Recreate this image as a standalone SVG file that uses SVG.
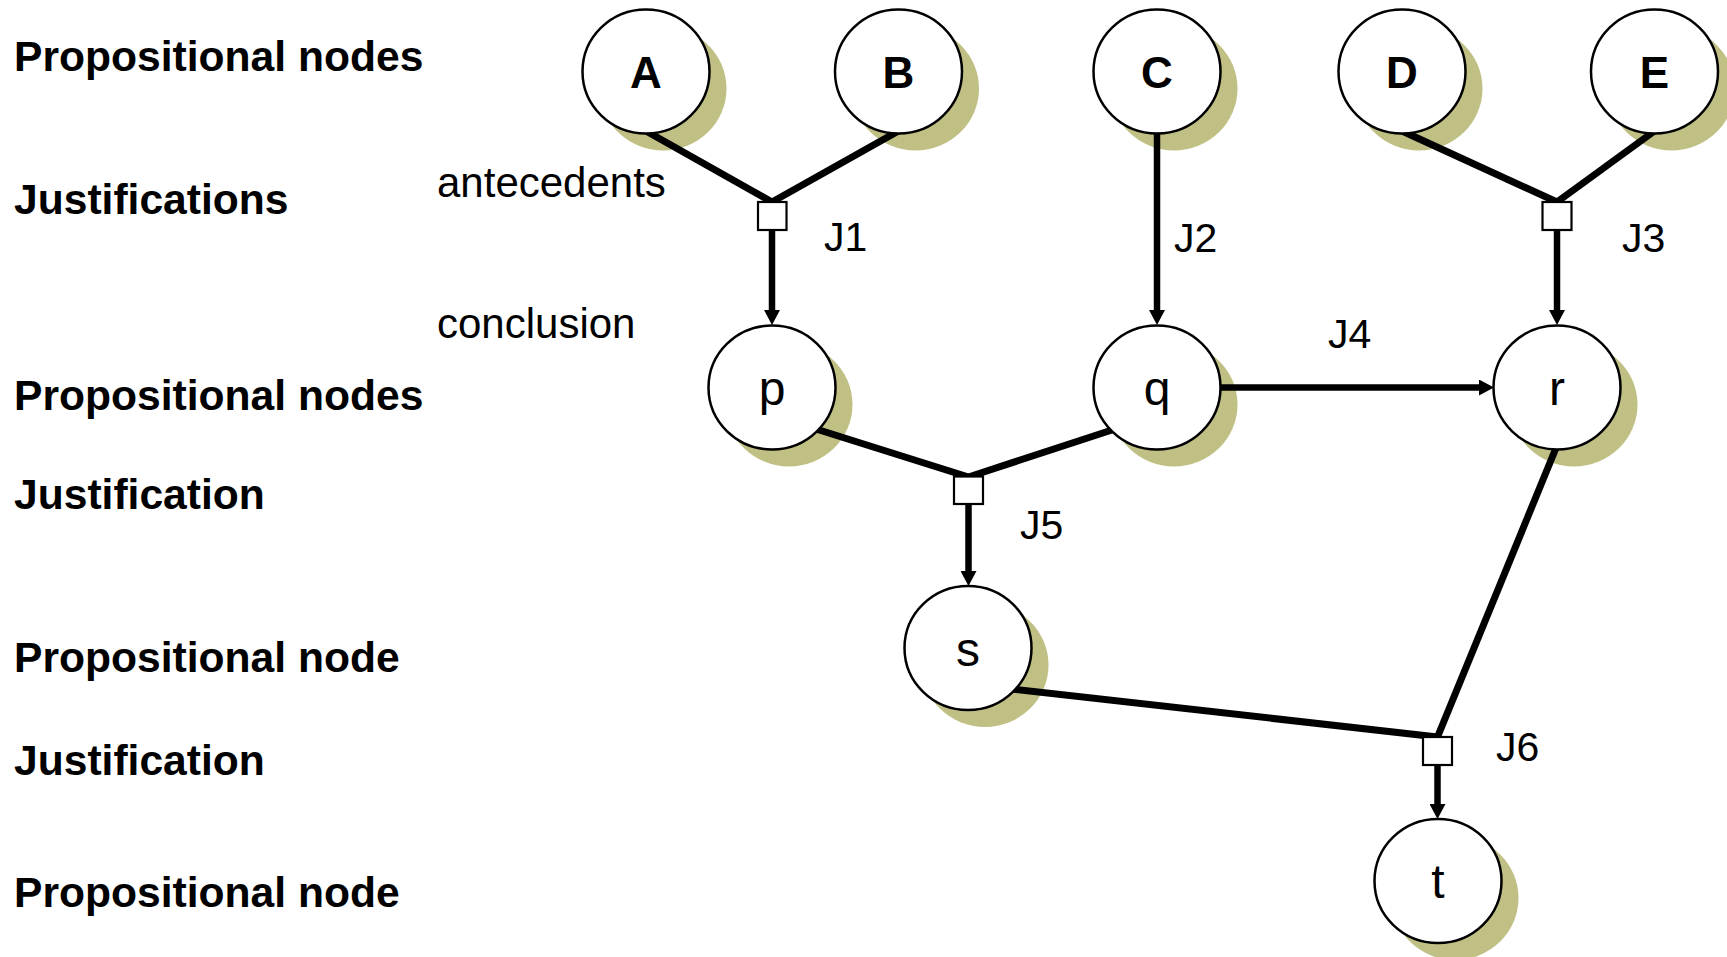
<svg xmlns="http://www.w3.org/2000/svg" width="1727" height="957" viewBox="0 0 1727 957">
  <style>
    .lbl { font-family: "Liberation Sans", Arial, sans-serif; font-size: 42px; fill: #000; }
    .b { font-weight: bold; font-size: 42.6px; }
    .jl { font-family: "Liberation Sans", Arial, sans-serif; font-size: 41px; fill: #000; }
    .nt { font-family: "Liberation Sans", Arial, sans-serif; text-anchor: middle; fill: #000; }
    .up { font-size: 44px; font-weight: bold; }
    .lo { font-size: 48px; }
    .shadow { fill: #c0c085; }
    .node { fill: #fff; stroke: #000; stroke-width: 2.5; }
    .jbox { fill: #fff; stroke: #000; stroke-width: 2.2; }
    .edge { stroke: #000; stroke-width: 7; fill: none; }
    .arrow { stroke: #000; stroke-width: 6.5; fill: none; marker-end: url(#head); }
  </style>
  <defs>
    <marker id="head" markerUnits="userSpaceOnUse" viewBox="0 0 15 16" markerWidth="15" markerHeight="16" refX="1" refY="8" orient="auto">
      <path d="M0,0 L15,8 L0,16 z" fill="#000"/>
    </marker>
  </defs>
  <rect width="1727" height="957" fill="#fff"/>

  <!-- row captions -->
  <g id="captions">
    <text class="lbl b" x="14" y="71">Propositional nodes</text>
    <text class="lbl b" x="14" y="214">Justifications</text>
    <text class="lbl b" x="14" y="410">Propositional nodes</text>
    <text class="lbl b" x="14" y="509">Justification</text>
    <text class="lbl b" x="14" y="672">Propositional node</text>
    <text class="lbl b" x="14" y="775">Justification</text>
    <text class="lbl b" x="14" y="907">Propositional node</text>
    <text class="lbl" x="437" y="197">antecedents</text>
    <text class="lbl" x="437" y="338">conclusion</text>
  </g>

  <!-- drop shadows of the propositional nodes -->
  <g id="shadows" class="shadow">
    <ellipse cx="663" cy="88.5" rx="63.5" ry="62"/>
    <ellipse cx="915.5" cy="88.5" rx="63.5" ry="62"/>
    <ellipse cx="1174" cy="88.5" rx="63.5" ry="62"/>
    <ellipse cx="1419" cy="88.5" rx="63.5" ry="62"/>
    <ellipse cx="1671.5" cy="88.5" rx="63.5" ry="62"/>
    <ellipse cx="789" cy="404.5" rx="63.5" ry="62"/>
    <ellipse cx="1174" cy="404.5" rx="63.5" ry="62"/>
    <ellipse cx="1574" cy="404.5" rx="63.5" ry="62"/>
    <ellipse cx="985" cy="665" rx="63.5" ry="62"/>
    <ellipse cx="1455" cy="898" rx="63.5" ry="62"/>
  </g>

  <!-- connectors -->
  <g id="connectors">
    <line class="edge" x1="646" y1="131" x2="772" y2="202"/>
    <line class="edge" x1="898.5" y1="131" x2="772" y2="202"/>
    <line class="arrow" x1="772" y1="230" x2="772" y2="311"/>
    <line class="arrow" x1="1157" y1="131" x2="1157" y2="311"/>
    <line class="edge" x1="1402" y1="131" x2="1557" y2="202"/>
    <line class="edge" x1="1654.5" y1="131" x2="1557" y2="202"/>
    <line class="arrow" x1="1557" y1="230" x2="1557" y2="311"/>
    <line class="arrow" x1="1219" y1="387.5" x2="1480" y2="387.5"/>
    <line class="edge" x1="816" y1="429" x2="968.5" y2="477"/>
    <line class="edge" x1="1115" y1="429" x2="968.5" y2="477"/>
    <line class="arrow" x1="968.5" y1="504" x2="968.5" y2="572"/>
    <line class="edge" x1="1012" y1="689" x2="1437.5" y2="737"/>
    <line class="edge" x1="1556" y1="448" x2="1437.5" y2="737"/>
    <line class="arrow" x1="1437.5" y1="765" x2="1437.5" y2="805"/>
  </g>

  <!-- propositional nodes -->
  <g id="node-A"><ellipse class="node" cx="646" cy="71.5" rx="63.5" ry="62"/><text class="nt up" x="646" y="88">A</text></g>
  <g id="node-B"><ellipse class="node" cx="898.5" cy="71.5" rx="63.5" ry="62"/><text class="nt up" x="898.5" y="88">B</text></g>
  <g id="node-C"><ellipse class="node" cx="1157" cy="71.5" rx="63.5" ry="62"/><text class="nt up" x="1157" y="88">C</text></g>
  <g id="node-D"><ellipse class="node" cx="1402" cy="71.5" rx="63.5" ry="62"/><text class="nt up" x="1402" y="88">D</text></g>
  <g id="node-E"><ellipse class="node" cx="1654.5" cy="71.5" rx="63.5" ry="62"/><text class="nt up" x="1654.5" y="88">E</text></g>
  <g id="node-p"><ellipse class="node" cx="772" cy="387.5" rx="63.5" ry="62"/><text class="nt lo" x="772" y="405">p</text></g>
  <g id="node-q"><ellipse class="node" cx="1157" cy="387.5" rx="63.5" ry="62"/><text class="nt lo" x="1157" y="405">q</text></g>
  <g id="node-r"><ellipse class="node" cx="1557" cy="387.5" rx="63.5" ry="62"/><text class="nt lo" x="1557" y="405">r</text></g>
  <g id="node-s"><ellipse class="node" cx="968" cy="648" rx="63.5" ry="62"/><text class="nt lo" x="968" y="666">s</text></g>
  <g id="node-t"><ellipse class="node" cx="1438" cy="881" rx="63.5" ry="62"/><text class="nt lo" x="1438" y="898">t</text></g>

  <!-- justification nodes -->
  <g id="J1"><rect class="jbox" x="758" y="202" width="28.5" height="28"/><text class="jl" x="824" y="251">J1</text></g>
  <g id="J2"><text class="jl" x="1174" y="251.5">J2</text></g>
  <g id="J3"><rect class="jbox" x="1542.5" y="202" width="29" height="28"/><text class="jl" x="1622" y="251.5">J3</text></g>
  <g id="J4"><text class="jl" x="1328" y="347.5">J4</text></g>
  <g id="J5"><rect class="jbox" x="954" y="476.5" width="29" height="27.5"/><text class="jl" x="1020" y="539">J5</text></g>
  <g id="J6"><rect class="jbox" x="1423" y="737" width="29" height="28"/><text class="jl" x="1496" y="760.5">J6</text></g>
</svg>
